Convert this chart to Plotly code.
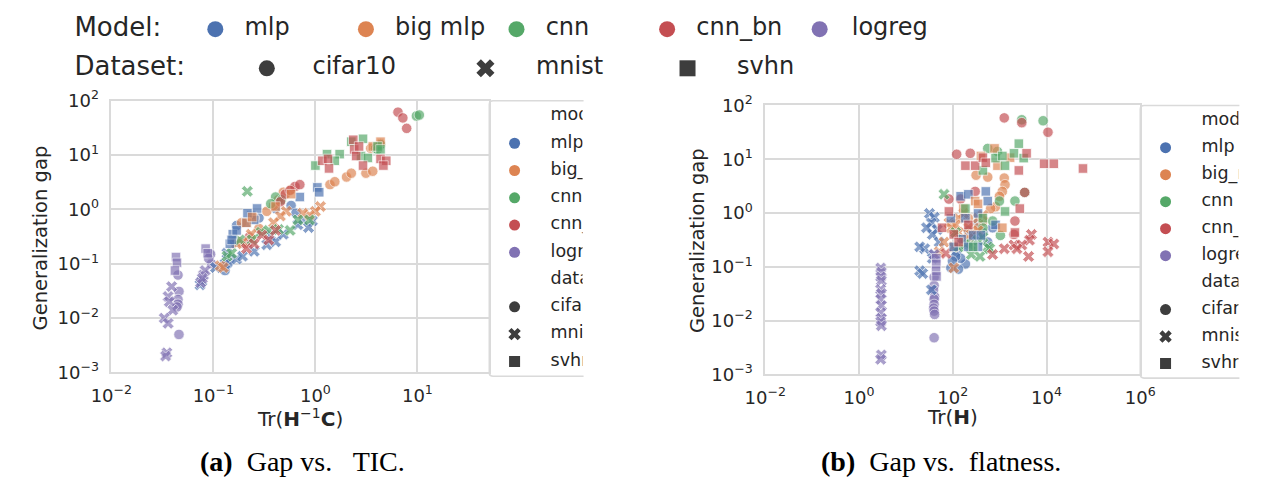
import math
import plotly.graph_objects as go

W, H = 1268, 494

MODELS = ["mlp", "big_mlp", "cnn", "cnn_bn", "logreg"]
MODEL_LABELS = ["mlp", "big mlp", "cnn", "cnn_bn", "logreg"]
MODEL_COLORS = ["#4C72B0", "#DD8452", "#55A868", "#C44E52", "#8172B3"]
DATASETS = ["cifar10", "mnist", "svhn"]
DATASET_SYMBOLS = ["circle", "x", "square"]
DATASET_GLYPH_COLOR = "#3d3d3d"

# ---- panel (a): generalization gap vs Tr(H^-1 C)  -- (x, y) pairs ----
tic_mlp_cifar10 = [(0.145, 0.122), (0.139, 0.1), (0.162, 0.253), (0.169, 0.504), (0.28, 0.695),
                   (0.578, 1.18), (0.645, 0.85), (0.407, 1.04), (0.13, 0.075)]
tic_mlp_mnist = [(0.074, 0.041), (0.077, 0.048), (0.105, 0.085), (0.13, 0.1), (0.136, 0.156),
                 (0.169, 0.122), (0.193, 0.138), (0.251, 0.169), (0.334, 0.224), (0.365, 0.336),
                 (0.407, 0.253), (0.485, 0.35), (0.751, 0.641), (0.936, 0.615), (0.857, 0.464),
                 (0.674, 0.524)]
tic_mlp_svhn = [(0.145, 0.233), (0.155, 0.35), (0.151, 0.275), (0.169, 0.411), (0.211, 0.568),
                (0.235, 0.785), (0.251, 0.641), (0.216, 0.851), (0.704, 1.69), (1.045, 2.54),
                (1.09, 2.07), (0.268, 1.04)]
tic_big_mlp_cifar10 = [(0.189, 0.568), (0.251, 0.695), (0.334, 0.922), (0.389, 1.18), (0.434, 1.5),
                       (0.485, 2.07), (0.578, 2.33), (1.39, 2.86), (1.55, 3.23), (2.02, 3.95),
                       (2.25, 4.64), (3.13, 4.64), (3.65, 5.04), (3.49, 13.3), (4.35, 16.3),
                       (0.28, 0.446)]
tic_big_mlp_mnist = [(1.12, 1.13), (1.0, 0.922), (0.877, 0.785), (0.751, 0.851), (0.518, 0.922),
                     (0.454, 0.754), (0.389, 0.568), (0.235, 0.35), (0.193, 0.253), (0.169, 0.233),
                     (0.117, 0.092), (0.125, 0.085)]
tic_big_mlp_svhn = [(0.211, 0.568), (0.24, 0.724), (4.35, 17.6), (3.65, 14.4), (0.578, 1.91),
                    (0.407, 1.13)]
tic_cnn_cifar10 = [(0.407, 1.69), (0.365, 1.27), (0.464, 1.5), (3.89, 13.3), (4.35, 15.6),
                   (4.07, 12.7), (9.78, 52.4), (10.45, 54.6)]
tic_cnn_mnist = [(0.215, 2.15), (0.24, 0.275), (0.293, 0.379), (0.349, 0.411), (0.434, 0.428),
                 (0.565, 0.411), (0.674, 0.641), (0.877, 0.641), (0.136, 0.138), (0.151, 0.156),
                 (0.181, 0.275)]
tic_cnn_svhn = [(1.0, 6.41), (1.3, 10.4), (1.73, 10.4), (1.55, 7.85), (2.93, 19.9), (2.8, 9.6),
                (3.27, 8.85), (4.07, 14.4), (4.35, 12.7), (2.25, 17.6)]
tic_cnn_bn_cifar10 = [(6.45, 61.6), (7.2, 48.3), (7.85, 31.0), (0.631, 2.64), (0.704, 2.86),
                      (0.454, 1.38), (0.507, 1.91), (0.565, 2.24), (0.202, 0.233), (0.225, 0.31)]
tic_cnn_bn_mnist = [(0.211, 0.191), (0.299, 0.336), (0.349, 0.275), (0.251, 0.233), (0.407, 0.411)]
tic_cnn_bn_svhn = [(1.17, 7.85), (1.33, 8.5), (1.36, 5.68), (2.35, 19.1), (2.4, 12.7), (2.51, 9.6),
                   (2.93, 6.41), (4.35, 8.5), (4.95, 7.85), (4.64, 6.41), (2.68, 14.4)]
tic_logreg_cifar10 = [(0.045, 0.062), (0.046, 0.031), (0.045, 0.022), (0.045, 0.018), (0.044, 0.016),
                      (0.046, 0.005), (0.096, 0.1), (0.094, 0.15), (0.09, 0.125)]
tic_logreg_mnist = [(0.039, 0.038), (0.036, 0.025), (0.037, 0.02), (0.04, 0.014), (0.033, 0.01),
                    (0.036, 0.008), (0.035, 0.0023), (0.034, 0.002), (0.08, 0.062), (0.075, 0.045),
                    (0.083, 0.075), (0.078, 0.054)]
tic_logreg_svhn = [(0.043, 0.133), (0.044, 0.104), (0.042, 0.075), (0.084, 0.19), (0.088, 0.156)]

# ---- panel (b): generalization gap vs Tr(H)  -- (x, y) pairs ----
flat_mlp_cifar10 = [(121, 0.191), (186, 0.113), (91, 0.0955), (147, 0.144), (115, 0.156),
                    (154, 0.255), (272, 0.354), (346, 0.653), (439, 0.434), (707, 0.532),
                    (557, 0.288), (215, 0.471), (98, 0.128), (132, 0.0905)]
flat_mlp_mnist = [(31.8, 0.984), (40.4, 0.835), (35, 0.653), (46.6, 0.491), (36.7, 0.4),
                  (25.1, 0.217), (19.7, 0.235), (36.7, 0.144), (19.7, 0.0845), (22.8, 0.0748),
                  (35, 0.0373), (51.3, 0.288), (27.5, 0.532), (40, 0.17)]
flat_mlp_svhn = [(147, 2.05), (215, 2.23), (507, 2.52), (557, 1.67), (272, 0.384), (399, 0.384),
                 (154, 0.326), (817, 0.602), (346, 0.984), (186, 0.802), (105, 0.235),
                 (215, 0.235), (346, 0.235), (91, 0.802)]
flat_big_mlp_cifar10 = [(314, 5.05), (557, 4.66), (1254, 4.47), (1302, 3.36), (1140, 2.52),
                        (989, 2.05), (817, 1.31), (643, 1.21), (215, 0.802), (346, 0.532),
                        (105, 0.471), (439, 0.71)]
flat_big_mlp_mnist = [(82.6, 0.653), (133, 0.434), (215, 0.532), (65, 0.288), (105, 0.235),
                      (346, 0.802), (439, 0.906), (169, 0.984), (105, 0.0955), (51.3, 0.191),
                      (133, 0.802), (92, 0.532), (248, 0.4), (154, 0.313), (215, 0.34),
                      (346, 0.471), (115, 0.602)]
flat_big_mlp_svhn = [(778, 15.9), (399, 11.5), (1671, 10.7), (300, 1.67), (1140, 0.532), (898, 7.6),
                     (169, 1.21), (346, 1.48)]
flat_cnn_cifar10 = [(2965, 54.2), (8450, 52), (557, 15.9), (898, 14), (2119, 1.67), (3420, 2.42),
                    (989, 1.67), (1037, 0.384), (707, 0.71), (439, 0.532), (215, 0.288)]
flat_cnn_mnist = [(65, 2.23), (248, 0.17), (380, 0.156), (236, 0.255), (557, 0.235), (613, 0.217),
                  (346, 0.313), (133, 0.235), (115, 0.434), (186, 0.266), (439, 0.354)]
flat_cnn_svhn = [(2567, 19.5), (2021, 12.9), (817, 10.5), (1302, 7.6), (3258, 10.5), (1302, 1.07),
                 (439, 6.2), (1140, 11.5), (272, 0.235), (439, 0.802), (186, 1.21)]
flat_cnn_bn_cifar10 = [(1254, 58.8), (10740, 31.8), (2965, 47.9), (121, 12.4), (236, 12.9),
                       (3420, 2.42), (82.6, 1.82), (147, 1.82), (2119, 0.71), (2021, 0.4), (300, 2.52)]
flat_cnn_bn_mnist = [(4775, 0.4), (4335, 0.313), (10740, 0.288), (14290, 0.266), (10740, 0.191),
                     (4140, 0.156), (2021, 0.255), (2965, 0.255), (1254, 0.217), (707, 0.17),
                     (2333, 0.217), (71.6, 0.177)]
flat_cnn_bn_svhn = [(186, 7.6), (300, 7.6), (439, 10.7), (3758, 12.9), (8870, 8.25), (14290, 8.25),
                    (59840, 6.73), (2692, 1.21), (2567, 6.2), (82.6, 1.07), (2119, 0.434), (507, 8.6),
                    (105, 0.4), (215, 0.602), (59, 0.532), (133, 0.288)]
flat_logreg_cifar10 = [(40, 0.064), (40, 0.045), (39, 0.037), (41, 0.028), (40, 0.025), (40, 0.02),
                       (39, 0.017), (40, 0.015), (41, 0.013), (40, 0.0048)]
flat_logreg_mnist = [(2.9, 0.095), (3.0, 0.08), (2.9, 0.065), (3.0, 0.055), (2.9, 0.038),
                     (3.0, 0.032), (2.9, 0.025), (3.0, 0.019), (2.9, 0.014), (3.0, 0.011),
                     (2.9, 0.0095), (3.0, 0.008), (3.0, 0.0023), (2.9, 0.0019), (40, 0.17)]
flat_logreg_svhn = [(44.5, 0.144), (44.5, 0.113), (44, 0.0845), (45, 0.0662)]

# axis ticks
TIC_XTICKS = [0.01, 0.1, 1, 10]
FLAT_XTICKS = [0.01, 1, 100, 1e4, 1e6]
YTICKS = [1e-3, 1e-2, 1e-1, 1, 10, 100]


def pow_label(v):
    s = str(round(math.log10(v))).replace("-", "\u2212")
    return "10<sup>" + s + "</sup>"


def fx(px):
    return px / W


def fy(py):
    return 1 - py / H


FONT = "DejaVu Sans"
TXT = "#262626"
GRID = "#dadada"

fig = go.Figure()

panels = [
    ("x", "y", {
        ("mlp", "cifar10"): tic_mlp_cifar10, ("mlp", "mnist"): tic_mlp_mnist, ("mlp", "svhn"): tic_mlp_svhn,
        ("big_mlp", "cifar10"): tic_big_mlp_cifar10, ("big_mlp", "mnist"): tic_big_mlp_mnist,
        ("big_mlp", "svhn"): tic_big_mlp_svhn,
        ("cnn", "cifar10"): tic_cnn_cifar10, ("cnn", "mnist"): tic_cnn_mnist, ("cnn", "svhn"): tic_cnn_svhn,
        ("cnn_bn", "cifar10"): tic_cnn_bn_cifar10, ("cnn_bn", "mnist"): tic_cnn_bn_mnist,
        ("cnn_bn", "svhn"): tic_cnn_bn_svhn,
        ("logreg", "cifar10"): tic_logreg_cifar10, ("logreg", "mnist"): tic_logreg_mnist,
        ("logreg", "svhn"): tic_logreg_svhn,
    }),
    ("x2", "y2", {
        ("mlp", "cifar10"): flat_mlp_cifar10, ("mlp", "mnist"): flat_mlp_mnist, ("mlp", "svhn"): flat_mlp_svhn,
        ("big_mlp", "cifar10"): flat_big_mlp_cifar10, ("big_mlp", "mnist"): flat_big_mlp_mnist,
        ("big_mlp", "svhn"): flat_big_mlp_svhn,
        ("cnn", "cifar10"): flat_cnn_cifar10, ("cnn", "mnist"): flat_cnn_mnist, ("cnn", "svhn"): flat_cnn_svhn,
        ("cnn_bn", "cifar10"): flat_cnn_bn_cifar10, ("cnn_bn", "mnist"): flat_cnn_bn_mnist,
        ("cnn_bn", "svhn"): flat_cnn_bn_svhn,
        ("logreg", "cifar10"): flat_logreg_cifar10, ("logreg", "mnist"): flat_logreg_mnist,
        ("logreg", "svhn"): flat_logreg_svhn,
    }),
]

MARKER_SIZE = {"circle": 10.5, "x": 10.5, "square": 9.5}

for xa, ya, groups in panels:
    for ds, sym in zip(DATASETS, DATASET_SYMBOLS):
        for m, col in zip(MODELS, MODEL_COLORS):
            pts = groups[(m, ds)]
            fig.add_trace(go.Scatter(
                x=[p[0] for p in pts], y=[p[1] for p in pts],
                mode="markers", xaxis=xa, yaxis=ya, showlegend=False,
                name=f"{m} / {ds}",
                marker=dict(symbol=sym, size=MARKER_SIZE[sym], color=col, opacity=0.68,
                            line=dict(color="white", width=0.8)),
            ))

# ---- in-panel legends (clipped on the right edge of each panel) ----
LEGEND_ROWS = ["model"] + MODELS + ["dataset"] + DATASETS


def panel_legend(xa, ya, mx, tx, y0, dy):
    ys = [y0 + i * dy for i in range(len(LEGEND_ROWS))]
    fig.add_trace(go.Scatter(
        x=[mx] * len(MODELS), y=ys[1:6], mode="markers", xaxis=xa, yaxis=ya, showlegend=False,
        marker=dict(symbol="circle", size=11, color=MODEL_COLORS, line=dict(width=0)),
        hoverinfo="skip"))
    fig.add_trace(go.Scatter(
        x=[mx] * len(DATASETS), y=ys[7:], mode="markers", xaxis=xa, yaxis=ya, showlegend=False,
        marker=dict(symbol=DATASET_SYMBOLS, size=11, color=DATASET_GLYPH_COLOR, line=dict(width=0)),
        hoverinfo="skip"))
    fig.add_trace(go.Scatter(
        x=[tx] * len(LEGEND_ROWS), y=ys, mode="text", text=LEGEND_ROWS, textposition="middle right",
        textfont=dict(family=FONT, size=17.5, color=TXT), xaxis=xa, yaxis=ya,
        showlegend=False, cliponaxis=True, hoverinfo="skip"))


panel_legend("x3", "y3", 508, 545, 108, 28.6)
panel_legend("x4", "y4", 1178, 1215, 113, 28.3)

# ---- figure-level legend across the top ----
TOP_MODEL_MARK_X = [200, 355, 510, 665, 822]
TOP_MODEL_TEXT_X = [230, 385, 540, 695, 855]
TOP_DS_MARK_X = [253, 478, 686]
TOP_DS_TEXT_X = [300, 530, 737]
ROW1, ROW2 = 17, 58

fig.add_trace(go.Scatter(
    x=TOP_MODEL_MARK_X, y=[ROW1] * 5, mode="markers", xaxis="x5", yaxis="y5", showlegend=False,
    marker=dict(symbol="circle", size=16, color=MODEL_COLORS, line=dict(width=0)), hoverinfo="skip"))
fig.add_trace(go.Scatter(
    x=TOP_DS_MARK_X, y=[ROW2] * 3, mode="markers", xaxis="x5", yaxis="y5", showlegend=False,
    marker=dict(symbol=DATASET_SYMBOLS, size=16, color=DATASET_GLYPH_COLOR, line=dict(width=0)),
    hoverinfo="skip"))
fig.add_trace(go.Scatter(
    x=TOP_MODEL_TEXT_X + TOP_DS_TEXT_X,
    y=[ROW1] * 5 + [ROW2] * 3,
    text=MODEL_LABELS + DATASETS,
    mode="text", textposition="middle right", xaxis="x5", yaxis="y5", showlegend=False,
    textfont=dict(family=FONT, size=24, color=TXT), hoverinfo="skip", cliponaxis=False))
fig.add_trace(go.Scatter(
    x=[55, 55], y=[ROW1, ROW2], text=["Model:", "Dataset:"],
    mode="text", textposition="middle right", xaxis="x5", yaxis="y5", showlegend=False,
    textfont=dict(family=FONT, size=26, color=TXT), hoverinfo="skip", cliponaxis=False))

axis_common = dict(
    type="log", showgrid=True, gridcolor=GRID, gridwidth=1.6, zeroline=False,
    showline=True, linecolor=GRID, linewidth=1.6, mirror=True, ticks="",
    tickfont=dict(family=FONT, size=18, color=TXT),
)
hidden = dict(visible=False, showgrid=False, zeroline=False, fixedrange=True)

layout = dict(
    width=W, height=H, margin=dict(l=0, r=0, t=0, b=0),
    paper_bgcolor="white", plot_bgcolor="rgba(0,0,0,0)", showlegend=False,
    xaxis=dict(axis_common, domain=[fx(93), fx(482)], range=[-2, 1.705], anchor="y",
               tickvals=TIC_XTICKS, ticktext=[pow_label(v) for v in TIC_XTICKS], ticklabelstandoff=6),
    yaxis=dict(axis_common, domain=[fy(377), fy(92)], range=[-3, 2], anchor="x",
               tickvals=YTICKS, ticktext=[pow_label(v) for v in YTICKS], ticklabelstandoff=7),
    xaxis2=dict(axis_common, domain=[fx(766), fx(1152)], range=[-2, 6], anchor="y2",
                tickvals=FLAT_XTICKS, ticktext=[pow_label(v) for v in FLAT_XTICKS], ticklabelstandoff=6),
    yaxis2=dict(axis_common, domain=[fy(379), fy(97)], range=[-3, 2], anchor="x2",
                tickvals=YTICKS, ticktext=[pow_label(v) for v in YTICKS], ticklabelstandoff=7),
    xaxis3=dict(hidden, domain=[fx(482), fx(578)], range=[482, 578], anchor="y3"),
    yaxis3=dict(hidden, domain=[fy(381), fy(92)], range=[381, 92], anchor="x3"),
    xaxis4=dict(hidden, domain=[fx(1152), fx(1253)], range=[1152, 1253], anchor="y4"),
    yaxis4=dict(hidden, domain=[fy(383), fy(97)], range=[383, 97], anchor="x4"),
    xaxis5=dict(hidden, domain=[0, 1], range=[0, W], anchor="y5"),
    yaxis5=dict(hidden, domain=[0, 1], range=[H, 0], anchor="x5"),
)
fig.update_layout(**layout)


def legend_frame(x0, x1, y0, y1, r=4):
    return (f"M {x1},{y0} L {x0 + r},{y0} Q {x0},{y0} {x0},{y0 + r} "
            f"L {x0},{y1 - r} Q {x0},{y1} {x0 + r},{y1} L {x1},{y1}")


shapes = [
    dict(type="path", xref="x5", yref="y5", path=legend_frame(482, 579, 92, 381),
         line=dict(color=GRID, width=1.6), layer="above"),
    dict(type="path", xref="x5", yref="y5", path=legend_frame(1152, 1254, 97, 383),
         line=dict(color=GRID, width=1.6), layer="above"),
]
fig.update_layout(shapes=shapes)

ann_font = dict(family=FONT, size=19.5, color=TXT)
cap_font = dict(family="Liberation Serif", size=28, color="black")
annotations = [
    dict(text="Generalization gap", x=fx(20), y=fy(236), textangle=-90, font=ann_font),
    dict(text="Generalization gap", x=fx(697), y=fy(239), textangle=-90, font=ann_font),
    dict(text="Tr(<b>H</b><sup>\u22121</sup><b>C</b>)", x=fx(287), y=fy(425),
         font=dict(ann_font, size=20)),
    dict(text="Tr(<b>H</b>)", x=fx(959), y=fy(424), font=dict(ann_font, size=20)),
    dict(text="<b>(a)</b>\u00a0 Gap vs.\u00a0\u00a0 TIC.", x=fx(182), y=fy(470), xanchor="left",
         font=cap_font),
    dict(text="<b>(b)</b>\u00a0 Gap vs.\u00a0 flatness.", x=fx(821), y=fy(470), xanchor="left",
         font=cap_font),
]
for a in annotations:
    a.setdefault("xref", "paper")
    a.setdefault("yref", "paper")
    a.setdefault("showarrow", False)
    a.setdefault("xanchor", "center")
    a.setdefault("yanchor", "middle")
fig.update_layout(annotations=annotations)

fig.write_html("out.html")
